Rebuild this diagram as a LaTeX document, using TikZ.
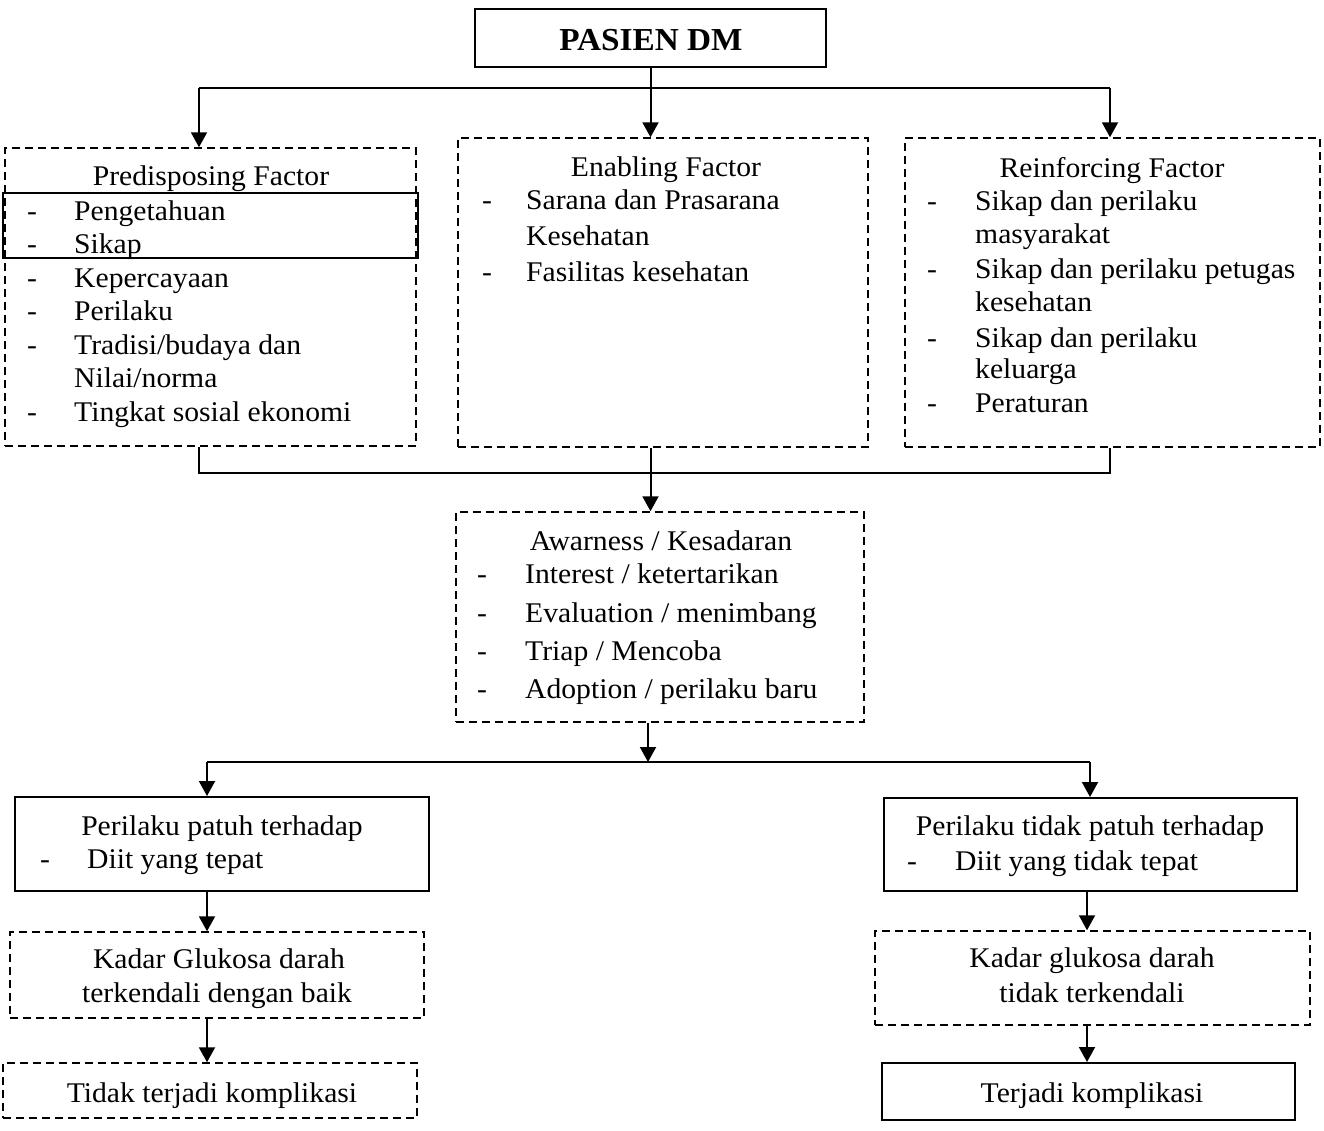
\documentclass[tikz,border=0pt]{standalone}
\usepackage{fontspec}
\setmainfont{Liberation Serif}[FakeStretch=1.04]
\usetikzlibrary{arrows.meta}
\begin{document}
\begin{tikzpicture}[x=1pt,y=-1pt,
  dbox/.style={draw, line width=1.5pt, dash pattern=on 8pt off 5pt, inner sep=0pt},
  sbox/.style={draw, line width=2pt, inner sep=0pt},
  conn/.style={line width=2pt},
  arr/.style={line width=2pt, -{Triangle[length=15pt,width=16pt]}},
  txt/.style={inner sep=0pt, font=\fontsize{28.5}{33}\selectfont},
  ttl/.style={txt, anchor=base},
  itm/.style={txt, anchor=base west}]
\useasboundingbox (0,0) rectangle (1324,1130);

% boxes
\node[sbox, minimum width=351pt, minimum height=58pt] (pasien) at (650.5,38) {};
\node[dbox, minimum width=411pt, minimum height=298pt] (pre) at (210.5,297) {};
\node[sbox, minimum width=415pt, minimum height=65pt] (inner) at (210.5,225.5) {};
\node[dbox, minimum width=410pt, minimum height=309pt] (ena) at (663,292.5) {};
\node[dbox, minimum width=415pt, minimum height=309pt] (rei) at (1112.5,292.5) {};
\node[dbox, minimum width=408pt, minimum height=210pt] (awa) at (660,617) {};
\node[sbox, minimum width=414pt, minimum height=94pt] (lres) at (222,844) {};
\node[dbox, minimum width=414pt, minimum height=86pt] (lkad) at (217,975) {};
\node[dbox, minimum width=414pt, minimum height=55pt] (ltid) at (210,1090.5) {};
\node[sbox, minimum width=413pt, minimum height=93pt] (rres) at (1090.5,844.5) {};
\node[dbox, minimum width=435pt, minimum height=94pt] (rkad) at (1092.5,978) {};
\node[sbox, minimum width=413pt, minimum height=57pt] (rter) at (1088.5,1091.5) {};

% title
\node[inner sep=0pt, anchor=base, font=\fontsize{32}{36}\selectfont\bfseries] (tpas) at (651,50) {PASIEN DM};

% Predisposing
\node[ttl] (pt) at (211,185) {Predisposing Factor};
\node[itm] (pd1) at (27,220) {-};
\node[itm] (pi1) at (74,220) {Pengetahuan};
\node[itm] (pd2) at (27,253) {-};
\node[itm] (pi2) at (74,253) {Sikap};
\node[itm] (pd3) at (27,287) {-};
\node[itm] (pi3) at (74,287) {Kepercayaan};
\node[itm] (pd4) at (27,320) {-};
\node[itm] (pi4) at (74,320) {Perilaku};
\node[itm] (pd5) at (27,354) {-};
\node[itm] (pi5) at (74,354) {Tradisi/budaya dan};
\node[itm] (pi6) at (74,387) {Nilai/norma};
\node[itm] (pd7) at (27,421) {-};
\node[itm] (pi7) at (74,421) {Tingkat sosial ekonomi};

% Enabling
\node[ttl] (et) at (666,176) {Enabling Factor};
\node[itm] (ed1) at (482,209) {-};
\node[itm] (ei1) at (526,209) {Sarana dan Prasarana};
\node[itm] (ei2) at (526,245) {Kesehatan};
\node[itm] (ed3) at (482,281) {-};
\node[itm] (ei3) at (526,281) {Fasilitas kesehatan};

% Reinforcing
\node[ttl] (rt) at (1112,177) {Reinforcing Factor};
\node[itm] (rd1) at (927,210) {-};
\node[itm] (ri1) at (975,210) {Sikap dan perilaku};
\node[itm] (ri2) at (975,243) {masyarakat};
\node[itm] (rd3) at (927,278) {-};
\node[itm] (ri3) at (975,278) {Sikap dan perilaku petugas};
\node[itm] (ri4) at (975,311) {kesehatan};
\node[itm] (rd5) at (927,347) {-};
\node[itm] (ri5) at (975,347) {Sikap dan perilaku};
\node[itm] (ri6) at (975,378) {keluarga};
\node[itm] (rd7) at (927,412) {-};
\node[itm] (ri7) at (975,412) {Peraturan};

% Awareness
\node[ttl] (at) at (661,550) {Awarness / Kesadaran};
\node[itm] (ad1) at (477,583) {-};
\node[itm] (ai1) at (525,583) {Interest / ketertarikan};
\node[itm] (ad2) at (477,622) {-};
\node[itm] (ai2) at (525,622) {Evaluation / menimbang};
\node[itm] (ad3) at (477,660) {-};
\node[itm] (ai3) at (525,660) {Triap / Mencoba};
\node[itm] (ad4) at (477,698) {-};
\node[itm] (ai4) at (525,698) {Adoption / perilaku baru};

% left branch
\node[ttl] (l1) at (222,835) {Perilaku patuh terhadap};
\node[itm] (ld1) at (40,868) {-};
\node[itm] (l2) at (87,868) {Diit yang tepat};
\node[ttl] (l3) at (219,968) {Kadar Glukosa darah};
\node[ttl] (l4) at (217,1002) {terkendali dengan baik};
\node[ttl] (l5) at (212,1102) {Tidak terjadi komplikasi};

% right branch
\node[ttl] (r1) at (1090,835) {Perilaku tidak patuh terhadap};
\node[itm] (rdd1) at (907,870) {-};
\node[itm] (r2) at (955,870) {Diit yang tidak tepat};
\node[ttl] (r3) at (1092,967) {Kadar glukosa darah};
\node[ttl] (r4) at (1092,1002) {tidak terkendali};
\node[ttl] (r5) at (1092,1102) {Terjadi komplikasi};

% connectors top
\coordinate (bL) at (199,88);
\coordinate (bR) at (1110,88);
\draw[conn] (pasien.south) -- (pasien.south |- bL);
\draw[conn] (bL) -- (bR);
\draw[arr] (bL) -- (bL |- pre.north);
\draw[arr] (pasien.south |- bL) -- (pasien.south |- ena.north);
\draw[arr] (bR) -- (bR |- rei.north);

% collector
\coordinate (cL) at (199,473);
\coordinate (cR) at (1110,473);
\draw[conn] (cL |- pre.south) -- (cL) -- (cR) -- (cR |- rei.south);
\draw[conn] (pasien.south |- ena.south) -- (pasien.south |- cL);
\draw[arr] (pasien.south |- cL) -- (pasien.south |- awa.north);

% split
\coordinate (dL) at (207,762);
\coordinate (dR) at (1090,762);
\coordinate (dM) at (648,762);
\draw[arr] (dM |- awa.south) -- (dM);
\draw[conn] (dL) -- (dR);
\draw[arr] (dL) -- (dL |- lres.north);
\draw[arr] (dR) -- (dR |- rres.north);
\draw[arr] (dL |- lres.south) -- (dL |- lkad.north);
\draw[arr] (dL |- lkad.south) -- (dL |- ltid.north);
\coordinate (rx) at (1087,900);
\draw[arr] (rx |- rres.south) -- (rx |- rkad.north);
\draw[arr] (rx |- rkad.south) -- (rx |- rter.north);
\end{tikzpicture}
\end{document}
